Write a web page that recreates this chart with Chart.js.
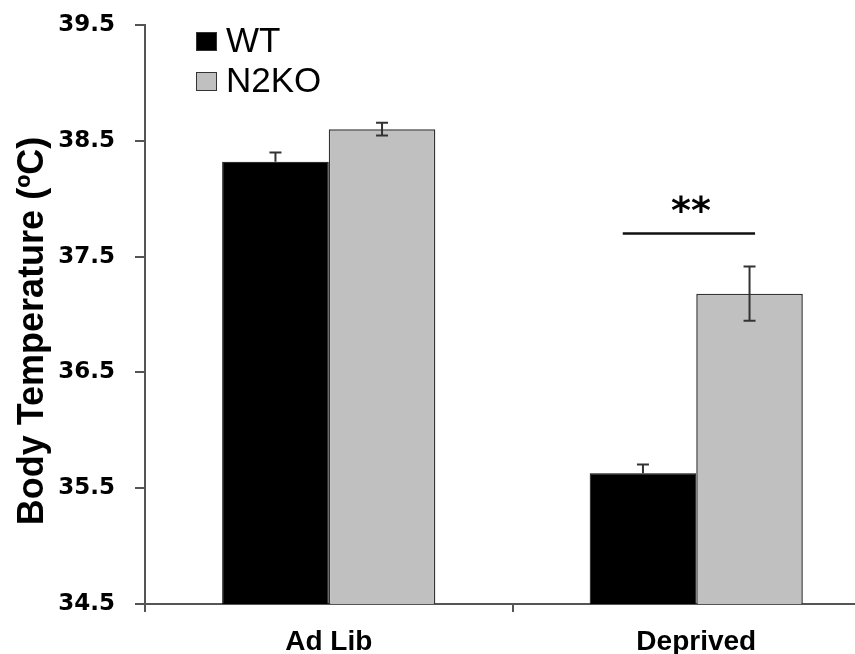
<!DOCTYPE html>
<html>
<head>
<meta charset="utf-8">
<script src="https://cdn.jsdelivr.net/npm/chart.js@4.4.0/dist/chart.umd.min.js"></script>
<style>
  html, body { margin: 0; padding: 0; background: #fff; overflow: hidden; }
  #wrap { position: relative; width: 890px; height: 654px; }
</style>
</head>
<body>
<div id="wrap"><canvas id="chart"></canvas></div>
<script>
const categories = ["Ad Lib", "Deprived"];
const seriesNames = ["WT", "N2KO"];
const wtValues = [38.32, 35.63];
const wtErrors = [0.08, 0.075];
const n2koValues = [38.6, 37.18];
const n2koErrors = [0.055, 0.235];
const yTicks = [34.5, 35.5, 36.5, 37.5, 38.5, 39.5];
const yTitle = "Body Temperature (ºC)";
const sigLabel = "**";
const sigLevel = 37.7;       // where the bracket line sits
const sigSpan = [0.8, 1.16]; // in category units

const axisColor = "#555";

// error bars, drawn from the same y scale as the bars
// (lower whisker is hidden inside the black WT bars)
const errorBars = {
  id: "errorBars",
  afterDatasetsDraw(chart) {
    const { ctx, scales: { y } } = chart;
    const errs = [wtErrors, n2koErrors];
    const showLower = [false, true];
    ctx.save();
    ctx.strokeStyle = "#333";
    ctx.lineWidth = 2;
    chart.data.datasets.forEach((ds, i) => {
      chart.getDatasetMeta(i).data.forEach((bar, j) => {
        const v = ds.data[j], e = errs[i][j];
        const top = y.getPixelForValue(v + e);
        const bot = showLower[i] ? y.getPixelForValue(v - e) : y.getPixelForValue(v);
        const x = bar.x;
        ctx.beginPath();
        ctx.moveTo(x, top); ctx.lineTo(x, bot);
        ctx.moveTo(x - 6, top); ctx.lineTo(x + 6, top);
        if (showLower[i]) { ctx.moveTo(x - 6, bot); ctx.lineTo(x + 6, bot); }
        ctx.stroke();
      });
    });
    ctx.restore();
  }
};

// significance bracket + stars, title and legend
const extras = {
  id: "extras",
  afterDraw(chart) {
    const { ctx, chartArea, scales: { x, y } } = chart;
    const step = x.getPixelForValue(1) - x.getPixelForValue(0);
    const x0 = x.getPixelForValue(0) + sigSpan[0] * step;
    const x1 = x.getPixelForValue(0) + sigSpan[1] * step;
    const ly = y.getPixelForValue(sigLevel);
    ctx.save();
    ctx.strokeStyle = "#111";
    ctx.lineWidth = 2.5;
    ctx.beginPath();
    ctx.moveTo(x0, ly); ctx.lineTo(x1, ly);
    ctx.stroke();
    ctx.fillStyle = "#000";
    ctx.font = "bold 38px 'DejaVu Sans'";
    ctx.textAlign = "center";
    ctx.textBaseline = "alphabetic";
    ctx.fillText(sigLabel, (x0 + x1) / 2 + 2, ly - 10);

    // rotated y axis title
    ctx.save();
    ctx.translate(43, 331);
    ctx.rotate(-Math.PI / 2);
    ctx.font = "bold 36px 'Liberation Sans'";
    ctx.textAlign = "center";
    ctx.fillText(yTitle, 0, 0);
    ctx.restore();

    // legend
    const lx = chartArea.left + 51;
    ctx.font = "35px 'Liberation Sans'";
    ctx.textAlign = "left";
    chart.data.datasets.forEach((ds, i) => {
      const top = 32 + i * 40;
      ctx.fillStyle = ds.backgroundColor;
      ctx.fillRect(lx, top, 20, 18);
      ctx.strokeStyle = "#333";
      ctx.lineWidth = 1;
      ctx.strokeRect(lx + 0.5, top + 0.5, 20, 18);
      ctx.fillStyle = "#000";
      ctx.fillText(ds.label, lx + 30, top + 20);
    });
    ctx.restore();
  }
};

new Chart(document.getElementById("chart"), {
  type: "bar",
  data: {
    labels: categories,
    datasets: [
      {
        label: seriesNames[0],
        data: wtValues,
        backgroundColor: "#000000",
        borderColor: "#000000",
        borderWidth: 1
      },
      {
        label: seriesNames[1],
        data: n2koValues,
        backgroundColor: "#c0c0c0",
        borderColor: "#333333",
        borderWidth: 1.5
      }
    ]
  },
  options: {
    responsive: true,
    maintainAspectRatio: false,
    animation: false,
    layout: { padding: { top: 25, right: 10, left: 0, bottom: 0 } },
    datasets: { bar: { categoryPercentage: 0.58, barPercentage: 1.0 } },
    plugins: {
      legend: { display: false },
      tooltip: { enabled: false }
    },
    scales: {
      x: {
        afterFit: s => { s.height = 50; s.paddingLeft = 0; s.paddingRight = 0; },
        grid: {
          drawOnChartArea: false,
          drawTicks: true,
          tickLength: 8,
          offset: true,
          color: axisColor,
          lineWidth: 2
        },
        border: { color: axisColor, width: 2 },
        ticks: {
          color: "#000",
          padding: 16,
          font: { family: "'Liberation Sans'", size: 28, weight: "bold", lineHeight: 1 }
        }
      },
      y: {
        min: 34.5,
        max: 39.5,
        afterFit: s => { s.width = 145; s.paddingTop = 0; s.paddingBottom = 0; },
        afterBuildTicks: s => { s.ticks = yTicks.map(v => ({ value: v })); },
        grid: {
          drawOnChartArea: false,
          drawTicks: true,
          tickLength: 10,
          color: axisColor,
          lineWidth: 2
        },
        border: { color: axisColor, width: 2 },
        ticks: {
          color: "#000",
          padding: 20,
          callback: v => Number(v).toFixed(1),
          font: { family: "'DejaVu Sans'", size: 23, weight: "bold" }
        }
      }
    }
  },
  plugins: [errorBars, extras]
});
</script>
</body>
</html>
